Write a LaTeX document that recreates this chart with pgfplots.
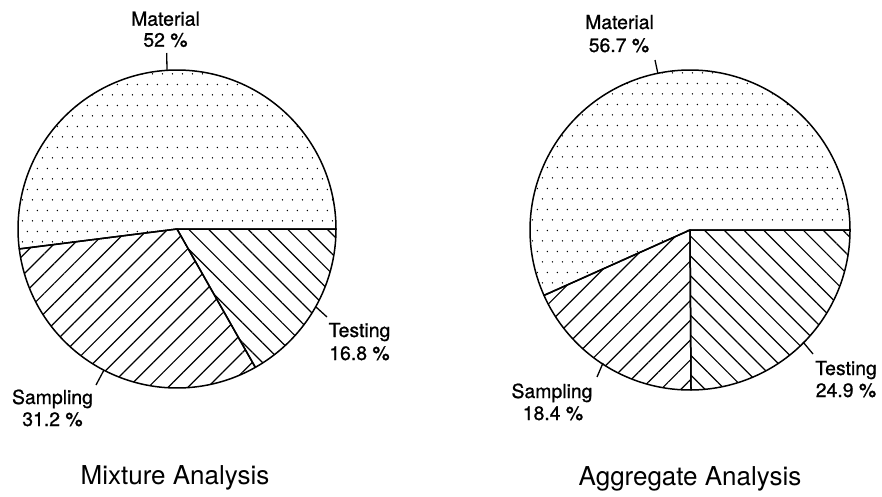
\documentclass[border=0pt]{standalone}
\usepackage{fontspec}
\setmainfont{TeX Gyre Heros}
\newfontfamily\labfont{TeX Gyre Heros}[BoldFont=TeX Gyre Heros, BoldFeatures={FakeBold=0.9}]
\usepackage{pgfplots}
\pgfplotsset{compat=1.18}
\usetikzlibrary{patterns,patterns.meta}

\pgfdeclarepatternformonly{sdots}{\pgfpoint{0pt}{0pt}}{\pgfpoint{10.4pt}{20.8pt}}{\pgfpoint{10.4pt}{20.8pt}}{%
  \pgfpathcircle{\pgfpoint{2.6pt}{5.2pt}}{0.8pt}%
  \pgfpathcircle{\pgfpoint{7.8pt}{15.6pt}}{0.8pt}%
  \pgfusepath{fill}}

% slice: cx, cy, r, start percent, percent, style
\newcommand{\slice}[6]{%
  \addplot[#6, draw=black, line width=1.5pt, line join=round,
    domain={#4*3.6}:{(#4+#5)*3.6}, samples=120]
    ({#1+#3*cos(x)},{#2+#3*sin(x)}) -- (axis cs:#1,#2) -- cycle;
}
\newcommand{\lab}{\labfont\bfseries\fontsize{19.4}{23}\selectfont}
\newcommand{\ttl}{\fontsize{26}{30}\selectfont}

\begin{document}
\begin{tikzpicture}
\begin{axis}[anchor=south west, at={(0,0)},
  width=882pt, height=496pt, scale only axis,
  xmin=0, xmax=882, ymin=0, ymax=496,
  hide axis, clip=false,
  every axis plot/.append style={no markers}]

% Mixture Analysis: Material 52, Sampling 31.2, Testing 16.8
\slice{177}{267}{159}{0}{52}{pattern=sdots}
\slice{177}{267}{159}{52}{31.2}{pattern={Lines[angle=45,distance=14pt,line width=1.2pt]}}
\slice{177}{267}{159}{83.2}{16.8}{pattern={Lines[angle=-45,distance=14pt,line width=1.2pt]}}

% Aggregate Analysis: Material 56.7, Sampling 18.4, Testing 24.9
\slice{690}{266}{160}{0}{56.7}{pattern=sdots}
\slice{690}{266}{160}{56.7}{18.4}{pattern={Lines[angle=45,distance=14pt,line width=1.2pt]}}
\slice{690}{266}{160}{75.1}{24.9}{pattern={Lines[angle=-45,distance=14pt,line width=1.2pt]}}

% leader lines
\addplot[black, line width=1.3pt] coordinates {(166.7,443) (167,426)};
\addplot[black, line width=1.3pt] coordinates {(96,111) (104,126)};
\addplot[black, line width=1.3pt] coordinates {(316,189) (327,179)};
\addplot[black, line width=1.3pt] coordinates {(655,436) (658,422)};
\addplot[black, line width=1.3pt] coordinates {(597,119) (603,133)};
\addplot[black, line width=1.3pt] coordinates {(803,154) (813,142)};

% labels
\node[anchor=base] at (axis cs:165.5,470.3) {\lab Material};
\node[anchor=base] at (axis cs:165.5,449.3) {\lab 52 \%};
\node[anchor=base] at (axis cs:52.5,92) {\lab Sampling};
\node[anchor=base] at (axis cs:52.5,70) {\lab 31.2 \%};
\node[anchor=base] at (axis cs:359.5,159) {\lab Testing};
\node[anchor=base] at (axis cs:359.5,136) {\lab 16.8 \%};

\node[anchor=base] at (axis cs:619.5,467) {\lab Material};
\node[anchor=base] at (axis cs:619,444) {\lab 56.7 \%};
\node[anchor=base] at (axis cs:552,98) {\lab Sampling};
\node[anchor=base] at (axis cs:553,76) {\lab 18.4 \%};
\node[anchor=base] at (axis cs:846,121) {\lab Testing};
\node[anchor=base] at (axis cs:846,99) {\lab 24.9 \%};

\node[anchor=base] at (axis cs:175,12) {\ttl Mixture Analysis};
\node[anchor=base] at (axis cs:690,11) {\ttl Aggregate Analysis};
\end{axis}
\pgfresetboundingbox
\path[use as bounding box] (0,0) rectangle (882pt,496pt);
\end{tikzpicture}
\end{document}
